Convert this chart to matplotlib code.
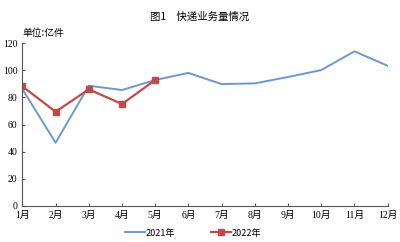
import matplotlib
matplotlib.use('Agg')
import matplotlib.pyplot as plt

months = ['1月', '2月', '3月', '4月', '5月', '6月', '7月', '8月', '9月', '10月', '11月', '12月']
y2021 = [86.0, 46.6, 88.6, 85.4, 92.8, 98.0, 89.8, 90.3, 95.0, 100.1, 113.9, 103.3]
y2022 = [88.1, 69.4, 85.9, 75.1, 92.8]
yticks = [0, 20, 40, 60, 80, 100, 120]

plt.rcParams['font.family'] = ['Liberation Serif', 'Noto Sans CJK SC']

fig = plt.figure(figsize=(4.0, 2.42), dpi=100)
ax = fig.add_axes([0.056, 0.149, 0.913, 0.673])

x = list(range(len(months)))
ax.plot(x, y2021, color='#6f97cf', linewidth=1.4, label='2021年')
ax.plot(x[:len(y2022)], y2022, color='#be4b48', linewidth=1.6, marker='s',
        markersize=4, label='2022年')

ax.set_xlim(0, 11)
ax.set_ylim(0, 120)
ax.set_xticks(x)
ax.set_xticklabels(months, fontsize=7)
ax.set_yticks(yticks)
ax.set_yticklabels([str(v) for v in yticks], fontsize=7)
ax.tick_params(direction='in', length=2.5, width=0.8, color='#555555', pad=3.5)
for side in ['top', 'right']:
    ax.spines[side].set_visible(False)
for side in ['left', 'bottom']:
    ax.spines[side].set_color('#555555')
    ax.spines[side].set_linewidth(0.8)

fig.text(0.5, 0.93, '图1　快递业务量情况', ha='center', va='center', fontsize=7.5,
         family=['Noto Sans CJK SC'])
fig.text(0.056, 0.865, '单位:亿件', ha='left', va='center', fontsize=7,
         family=['Noto Sans CJK SC'])

leg = fig.legend(loc='center', bbox_to_anchor=(0.483, 0.037), ncol=2, frameon=False,
                 handlelength=2.2, columnspacing=4.0, handletextpad=0.1,
                 prop={'family': ['Noto Sans CJK SC'], 'size': 6.5})

fig.savefig('out.png', dpi=100)
